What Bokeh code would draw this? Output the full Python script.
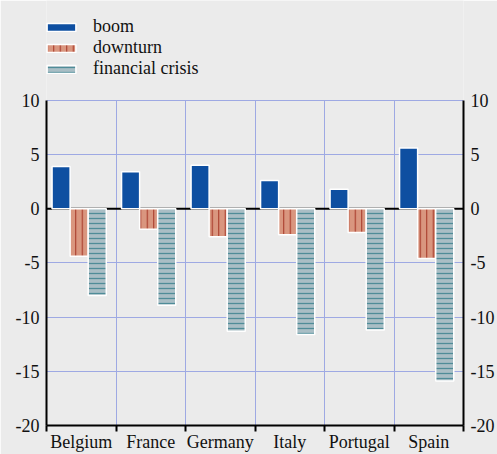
from bokeh.plotting import figure
from bokeh.models import Range1d, FixedTicker, LinearAxis, Span, Legend, LegendItem, ColumnDataSource
from bokeh.embed import file_html
from bokeh.resources import INLINE
import numpy as np

categories = ["Belgium", "France", "Germany", "Italy", "Portugal", "Spain"]
boom = [3.9, 3.4, 4.0, 2.6, 1.8, 5.6]
downturn = [-4.4, -1.9, -2.6, -2.4, -2.2, -4.6]
crisis = [-8.0, -8.9, -11.3, -11.6, -11.2, -15.9]
y_ticks = [-20, -15, -10, -5, 0, 5, 10]

BG = "#ebebeb"
FONT = "Liberation Serif"
idx = np.arange(len(categories))
y_lo, y_hi = y_ticks[0], y_ticks[-1]
y_top = 19.2  # extra head-room above the axis for the legend

src = ColumnDataSource(dict(
    xb=idx + 0.21, xd=idx + 0.47, xc=idx + 0.73,
    boom=boom, downturn=downturn, crisis=crisis,
))

p = figure(width=497, height=454, x_range=Range1d(0, len(categories)), y_range=Range1d(y_lo, y_top),
           output_backend="svg", toolbar_location=None,
           min_border_left=46, min_border_right=33, min_border_top=0, min_border_bottom=27,
           background_fill_color=BG, border_fill_color=BG, outline_line_color=None)

# grids
p.xgrid.ticker = FixedTicker(ticks=list(range(1, len(categories))))
p.xgrid.cross_bounds = (y_lo, y_hi)
p.ygrid.ticker = FixedTicker(ticks=y_ticks)
for g in (p.xgrid, p.ygrid):
    g.grid_line_color = "#9ea9e3"
    g.grid_line_width = 1

zero = Span(location=0, dimension="width", line_color="black", line_width=2, level="underlay")
p.add_layout(zero)

w = 0.26
r1 = p.vbar(x="xb", top="boom", bottom=0, width=w, source=src,
            fill_color="#0e4fa1", line_color="white", line_width=1.5)
r2 = p.vbar(x="xd", top=0, bottom="downturn", width=w, source=src,
            fill_color="#d9967f", line_color="white", line_width=1.5,
            hatch_pattern="vertical_line", hatch_color="#a83a2a", hatch_scale=6.5, hatch_weight=1.1)
r3 = p.vbar(x="xc", top=0, bottom="crisis", width=w, source=src,
            fill_color="#a9bec5", line_color="white", line_width=1.5,
            hatch_pattern="horizontal_line", hatch_color="#4f8c98", hatch_scale=5, hatch_weight=1.3)

# x axis
xa = p.xaxis[0]
xa.ticker = FixedTicker(ticks=list(idx + 0.5), minor_ticks=list(range(0, len(categories) + 1)))
xa.major_label_overrides = {float(i + 0.5): c for i, c in enumerate(categories)}
xa.major_tick_line_color = None
xa.major_tick_out = 5
xa.major_tick_in = 0
xa.minor_tick_out = 6
xa.minor_tick_in = 0
xa.minor_tick_line_color = "black"
xa.minor_tick_line_width = 2
xa.axis_line_color = "black"
xa.axis_line_width = 2
xa.major_label_standoff = 0

# y axes
ya = p.yaxis[0]
ra = LinearAxis()
p.add_layout(ra, "right")
for a in (ya, ra):
    a.ticker = FixedTicker(ticks=y_ticks)
    a.bounds = (y_lo, y_hi)
    a.major_label_overrides = {t: str(t) for t in y_ticks}
    a.major_tick_line_color = None
    a.minor_tick_line_color = None
    a.major_tick_out = 0
    a.major_tick_in = 0
    a.axis_line_color = "black"
    a.axis_line_width = 2
    a.major_label_standoff = 7

for a in (xa, ya, ra):
    a.major_label_text_font = FONT
    a.major_label_text_font_size = "18px"
    a.major_label_text_color = "#111111"

legend = Legend(items=[LegendItem(label="boom", renderers=[r1]),
                       LegendItem(label="downturn", renderers=[r2]),
                       LegendItem(label="financial crisis", renderers=[r3])],
                location=(-3, 346), orientation="vertical",
                glyph_width=36, glyph_height=10, label_height=18, spacing=0,
                label_standoff=14, padding=0, margin=0,
                background_fill_alpha=0, border_line_color=None,
                label_text_font=FONT, label_text_font_size="18px", label_text_color="#111111")
p.add_layout(legend)

open("out.html", "w").write(file_html(p, INLINE))
